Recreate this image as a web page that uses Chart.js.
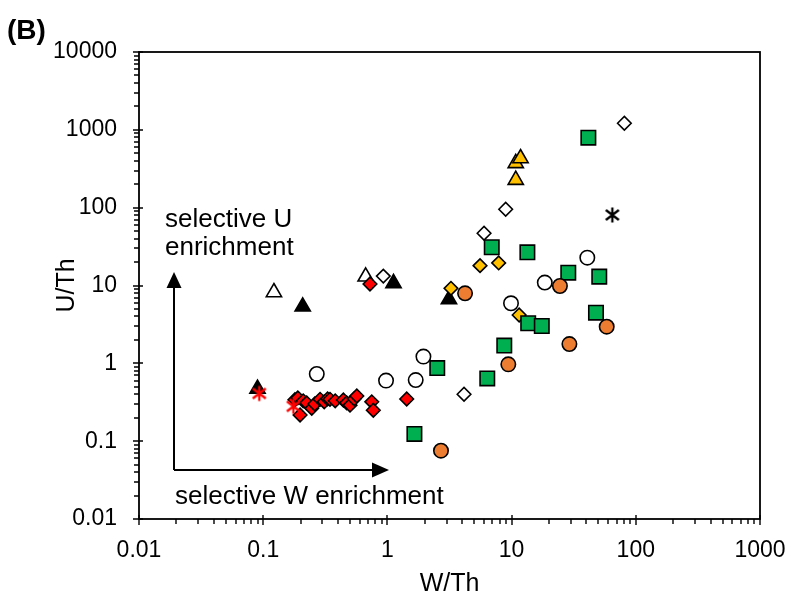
<!DOCTYPE html>
<html><head><meta charset="utf-8">
<script src="https://cdn.jsdelivr.net/npm/chart.js@4/dist/chart.umd.min.js"></script>
<style>html,body{margin:0;padding:0;background:#fff}canvas{display:block}</style>
</head><body>
<canvas id="c" width="791" height="596"></canvas>
<script>
// ---- data ----
const xTickLabels = ['0.01','0.1','1','10','100','1000'];
const yTickLabels = ['0.01','0.1','1','10','100','1000','10000'];

const orangeCircX = [2.70, 4.22, 9.41, 24.5, 29.2, 58.3];
const orangeCircY = [0.0755, 7.94, 0.97, 9.86, 1.77, 2.96];

const greenSqX = [1.65, 2.52, 6.37, 6.92, 8.73, 13.4, 13.6, 17.5, 28.6, 41.5, 47.8, 50.8];
const greenSqY = [0.124, 0.87, 0.64, 31.0, 1.69, 26.7, 3.27, 3.02, 14.6, 793, 4.48, 13.0];

const redStarX = [0.093, 0.175];
const redStarY = [0.41, 0.28];

const blackStarX = [64.7];
const blackStarY = [80.5];

const redDiaX = [0.18, 0.19, 0.198, 0.21, 0.224, 0.246, 0.26, 0.287, 0.31, 0.33, 0.345, 0.38, 0.442, 0.47, 0.50, 0.54, 0.567, 0.748, 0.77, 1.43, 0.724];
const redDiaY = [0.34, 0.36, 0.217, 0.33, 0.31, 0.264, 0.30, 0.345, 0.32, 0.35, 0.345, 0.33, 0.338, 0.31, 0.29, 0.35, 0.38, 0.32, 0.25, 0.348, 10.45];

const goldTriX = [10.8, 10.8, 11.8];
const goldTriY = [227, 372, 431];

const goldDiaX = [3.25, 5.57, 7.87, 11.5];
const goldDiaY = [9.2, 18.0, 19.5, 4.18];

const blackTriX = [0.09, 0.208, 1.12, 3.13];
const blackTriY = [0.47, 5.35, 10.7, 6.65];

const openCircX = [0.27, 0.975, 1.69, 1.95, 9.89, 18.5, 40.7];
const openCircY = [0.73, 0.60, 0.61, 1.22, 5.91, 10.9, 22.8];

const openDiaX = [0.927, 4.14, 6.0, 8.96, 80.9];
const openDiaY = [13.2, 0.40, 46.9, 95.3, 1214];

const openTriX = [0.122, 0.668];
const openTriY = [8.18, 13.0];

// ---- helpers ----
const pts = (xs, ys) => xs.map((x, i) => ({x, y: ys[i]}));
function asterisk(color) {
  const c = document.createElement('canvas');
  c.width = 18; c.height = 18;
  const g = c.getContext('2d');
  g.strokeStyle = color; g.lineWidth = 2.3; g.lineCap = 'butt';
  g.beginPath();
  g.moveTo(9, 1.5); g.lineTo(9, 16.5);
  g.moveTo(2.5, 4); g.lineTo(15.5, 14);
  g.moveTo(15.5, 4); g.lineTo(2.5, 14);
  g.stroke();
  return c;
}
const FONT = '"Liberation Sans", Arial, sans-serif';

function ds(label, xs, ys, style, fill, r, order) {
  return {
    label, data: pts(xs, ys), pointStyle: style,
    backgroundColor: fill, borderColor: '#000', borderWidth: 1.6,
    pointRadius: r, pointHoverRadius: r, order
  };
}

const datasets = [
  ds('orange circles', orangeCircX, orangeCircY, 'circle', '#ED7D31', 7.2, 1),
  ds('green squares', greenSqX, greenSqY, 'rect', '#00B050', 10.2, 2),
  {label:'red asterisk', data: pts(redStarX, redStarY), pointStyle: asterisk('#FF0000'), pointRadius: 9, order: 3},
  {label:'black asterisk', data: pts(blackStarX, blackStarY), pointStyle: asterisk('#000000'), pointRadius: 9, order: 4},
  ds('red diamonds', redDiaX, redDiaY, 'rectRot', '#FF0000', 6.8, 5),
  ds('gold triangles', goldTriX, goldTriY, 'triangle', '#FFC000', 8.8, 6),
  ds('gold diamonds', goldDiaX, goldDiaY, 'rectRot', '#FFC000', 6.8, 7),
  ds('black triangles', blackTriX, blackTriY, 'triangle', '#000000', 8.8, 8),
  ds('open circles', openCircX, openCircY, 'circle', '#FFFFFF', 7.2, 9),
  ds('open diamonds', openDiaX, openDiaY, 'rectRot', '#FFFFFF', 6.8, 10),
  ds('open triangles', openTriX, openTriY, 'triangle', '#FFFFFF', 8.8, 11)
];

function decadeLabel(labels, minExp) {
  return function(v) {
    const e = Math.log10(v);
    const re = Math.round(e);
    if (Math.abs(e - re) > 1e-6) return '';
    return labels[re - minExp] ?? '';
  };
}

const decor = {
  id: 'decor',
  afterDraw(chart) {
    const {ctx, chartArea: a, scales: {x, y}} = chart;
    ctx.save();
    ctx.strokeStyle = '#000';
    // tick marks
    ctx.lineWidth = 1.4;
    ctx.beginPath();
    for (let e = -2; e <= 3; e++) {
      for (let k = 1; k <= 9; k++) {
        const v = k * Math.pow(10, e);
        if (v > x.max * 1.0001) break;
        const px = Math.round(x.getPixelForValue(v));
        if (k === 1) { ctx.moveTo(px, a.bottom - 4); ctx.lineTo(px, a.bottom + 6); }
        else { ctx.moveTo(px, a.bottom); ctx.lineTo(px, a.bottom + 5); }
      }
    }
    for (let e = -2; e <= 4; e++) {
      for (let k = 1; k <= 9; k++) {
        const v = k * Math.pow(10, e);
        if (v > y.max * 1.0001) break;
        const py = Math.round(y.getPixelForValue(v));
        if (k === 1) { ctx.moveTo(a.left - 6, py); ctx.lineTo(a.left + 4, py); }
        else { ctx.moveTo(a.left - 5, py); ctx.lineTo(a.left, py); }
      }
    }
    ctx.stroke();
    // plot box
    ctx.lineWidth = 1.8;
    ctx.strokeRect(a.left, a.top, a.right - a.left, a.bottom - a.top);

    // arrows
    ctx.lineWidth = 2;
    ctx.fillStyle = '#000';
    ctx.beginPath();
    ctx.moveTo(174, 470); ctx.lineTo(174, 284);
    ctx.moveTo(174, 470); ctx.lineTo(376, 470);
    ctx.stroke();
    ctx.beginPath();
    ctx.moveTo(174, 272); ctx.lineTo(166.5, 288); ctx.lineTo(181.5, 288); ctx.closePath();
    ctx.fill();
    ctx.beginPath();
    ctx.moveTo(389, 470); ctx.lineTo(372, 462.5); ctx.lineTo(372, 477.5); ctx.closePath();
    ctx.fill();

    // texts
    ctx.textAlign = 'left';
    ctx.textBaseline = 'alphabetic';
    ctx.font = '26px ' + FONT;
    ctx.fillText('selective U', 165, 227);
    ctx.fillText('enrichment', 165, 255);
    ctx.fillText('selective W enrichment', 175, 504);
    ctx.font = 'bold 28px ' + FONT;
    ctx.fillText('(B)', 7, 39);
    ctx.restore();
  }
};

new Chart(document.getElementById('c'), {
  type: 'scatter',
  data: {datasets},
  options: {
    responsive: false,
    devicePixelRatio: 1,
    animation: false,
    layout: {padding: {top: 52, right: 31, left: 0, bottom: 0}},
    plugins: {legend: {display: false}, tooltip: {enabled: false}},
    scales: {
      x: {
        type: 'logarithmic', min: 0.01, max: 1000,
        grid: {display: false, drawTicks: false, tickLength: 0},
        border: {display: false},
        ticks: {autoSkip: false, maxRotation: 0, padding: 18, color: '#000',
          font: {family: FONT, size: 23}, callback: decadeLabel(xTickLabels, -2)},
        title: {display: true, text: 'W/Th', color: '#000', font: {family: FONT, size: 25}, padding: {top: 0, bottom: -3}},
        afterFit(s) { s.height = 77; s.paddingLeft = 0; s.paddingRight = 0; }
      },
      y: {
        type: 'logarithmic', min: 0.01, max: 10000,
        grid: {display: false, drawTicks: false, tickLength: 0},
        border: {display: false},
        ticks: {autoSkip: false, padding: 22, color: '#000',
          font: {family: FONT, size: 23}, callback: decadeLabel(yTickLabels, -2)},
        title: {display: true, text: 'U/Th', color: '#000', font: {family: FONT, size: 25}, padding: {top: 52, bottom: 0}},
        afterFit(s) { s.width = 139; s.paddingTop = 0; s.paddingBottom = 0; }
      }
    }
  },
  plugins: [decor]
});
</script>
</body></html>
